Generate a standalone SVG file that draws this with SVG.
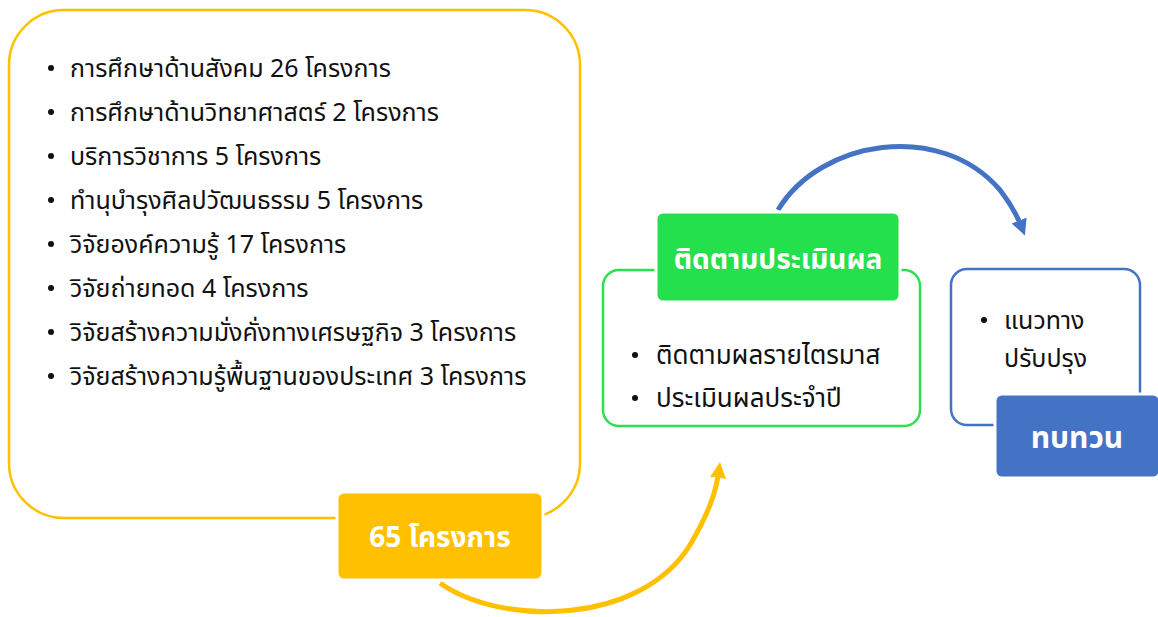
<svg xmlns="http://www.w3.org/2000/svg" width="1158" height="617" viewBox="0 0 1158 617">
<style>
text{font-family:"Noto Sans Thai","Leelawadee UI","Tahoma","Noto Sans","DejaVu Sans",sans-serif;}
.item{font-size:25px;fill:#111;}
.lbl{font-size:28px;fill:#fff;font-weight:bold;text-anchor:middle;}
.dot{fill:#111;}
</style>
<defs>
<marker id="ay" viewBox="0 0 10 10" refX="5" refY="5" markerWidth="3.2" markerHeight="3.2" orient="auto"><path d="M0,0 L10,5 L0,10 z" fill="#FFC000"/></marker>
<marker id="ab" viewBox="0 0 10 10" refX="5" refY="5" markerWidth="3.2" markerHeight="3.2" orient="auto"><path d="M0,0 L10,5 L0,10 z" fill="#4472C4"/></marker>
</defs>
<g id="connectors">
<path d="M440,583 C500,626 640,626 690,545 C707,516 716,494 719,470" fill="none" stroke="#FFC000" stroke-width="5" marker-end="url(#ay)"/>
<path d="M778,210 C820,140 940,120 1000,190 C1010,203 1017,215 1022,228" fill="none" stroke="#4472C4" stroke-width="5" marker-end="url(#ab)"/>
</g>
<g id="projects">
<rect x="9" y="10" width="571" height="508" rx="55" fill="#fff" stroke="#FFC000" stroke-width="2.5"/>
<g class="item">
<circle class="dot" cx="51" cy="68" r="3"/><text x="70" y="77">การศึกษาด้านสังคม 26 โครงการ</text>
<circle class="dot" cx="51" cy="112" r="3"/><text x="70" y="121">การศึกษาด้านวิทยาศาสตร์ 2 โครงการ</text>
<circle class="dot" cx="51" cy="156" r="3"/><text x="70" y="165">บริการวิชาการ 5 โครงการ</text>
<circle class="dot" cx="51" cy="200" r="3"/><text x="70" y="209">ทำนุบำรุงศิลปวัฒนธรรม 5 โครงการ</text>
<circle class="dot" cx="51" cy="244" r="3"/><text x="70" y="253">วิจัยองค์ความรู้ 17 โครงการ</text>
<circle class="dot" cx="51" cy="288" r="3"/><text x="70" y="297">วิจัยถ่ายทอด 4 โครงการ</text>
<circle class="dot" cx="51" cy="332" r="3"/><text x="70" y="341">วิจัยสร้างความมั่งคั่งทางเศรษฐกิจ 3 โครงการ</text>
<circle class="dot" cx="51" cy="376" r="3"/><text x="70" y="385">วิจัยสร้างความรู้พื้นฐานของประเทศ 3 โครงการ</text>
</g>
<rect x="337" y="492" width="206" height="88" rx="7" fill="#FFC000" stroke="#fff" stroke-width="3"/>
<text class="lbl" x="440" y="547">65 โครงการ</text>
</g>
<g id="evaluation">
<rect x="603" y="270" width="317" height="156" rx="16" fill="#fff" stroke="#2EE04F" stroke-width="2.5"/>
<g class="item">
<circle class="dot" cx="635" cy="355" r="3"/><text x="656" y="364" style="font-size:26px">ติดตามผลรายไตรมาส</text>
<circle class="dot" cx="635" cy="398" r="3"/><text x="656" y="407" style="font-size:26px">ประเมินผลประจำปี</text>
</g>
<rect x="656" y="212" width="244" height="90" rx="7" fill="#24E04C" stroke="#fff" stroke-width="3"/>
<text class="lbl" x="778" y="269">ติดตามประเมินผล</text>
</g>
<g id="review">
<rect x="951" y="269" width="189" height="156" rx="16" fill="#fff" stroke="#4472C4" stroke-width="2.5"/>
<g class="item">
<circle class="dot" cx="984" cy="320" r="3"/><text x="1004" y="329">แนวทาง</text>
<text x="1004" y="367">ปรับปรุง</text>
</g>
<rect x="995" y="394" width="165" height="84" rx="7" fill="#4472C4" stroke="#fff" stroke-width="3"/>
<text class="lbl" x="1077" y="448" style="font-size:30px">ทบทวน</text>
</g>
</svg>
